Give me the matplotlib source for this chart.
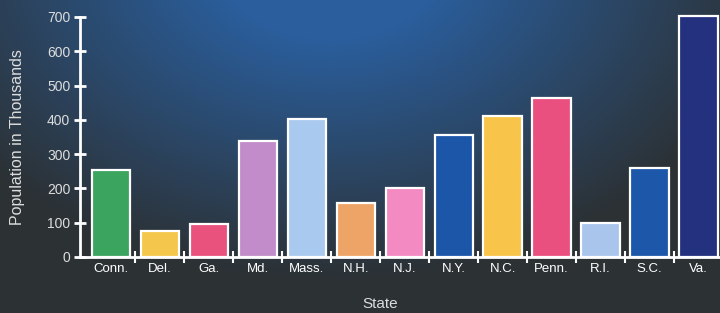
import numpy as np
import matplotlib
matplotlib.use('Agg')
import matplotlib.pyplot as plt

# population by state (thousands)
states = ['Conn.', 'Del.', 'Ga.', 'Md.', 'Mass.', 'N.H.', 'N.J.',
          'N.Y.', 'N.C.', 'Penn.', 'R.I.', 'S.C.', 'Va.']
population = [254, 76, 96, 338, 402, 157, 201, 356, 411, 464, 99, 259, 703]
bar_colors = ['#3ba45e', '#f4c64c', '#e9527c', '#c18cc9', '#a9c9ef',
              '#eea467', '#f38bc2', '#1b56a9', '#f8c44a', '#ea507f',
              '#a9c5ec', '#1d57a9', '#24317f']
y_ticks = [0, 100, 200, 300, 400, 500, 600, 700]

plt.rcParams['font.family'] = ['Liberation Sans', 'DejaVu Sans']

fig = plt.figure(figsize=(7.2, 3.13), dpi=100)

# background gradient: blue glow at the top centre fading into charcoal
bg = fig.add_axes([0, 0, 1, 1])
h, w = 313, 720
yy, xx = np.mgrid[0:h, 0:w]
d = np.sqrt(((xx - 330) / 450.0) ** 2 + ((yy + 40) / 320.0) ** 2)
t = np.clip((d - 0.25) / 0.75, 0, 1)[..., None]
blue = np.array([0x2a, 0x5e, 0x9c]) / 255
gray = np.array([0x2c, 0x31, 0x34]) / 255
img = blue * (1 - t) + gray * t
bg.imshow(img, aspect='auto', extent=[0, 1, 0, 1], origin='upper')
bg.axis('off')

ax = fig.add_axes([80 / 720, 1 - 257 / 313, 1 - 80 / 720, (257 - 17) / 313])
ax.patch.set_alpha(0)
x = np.arange(len(states))
ax.bar(x, population, width=0.78, color=bar_colors, edgecolor='white',
       linewidth=1.6, clip_on=False, zorder=3)

ax.set_xlim(-0.63, 12.44)
ax.set_ylim(0, 700)
for side in ['top', 'right']:
    ax.spines[side].set_visible(False)
for side in ['left', 'bottom']:
    ax.spines[side].set_color('white')
    ax.spines[side].set_linewidth(2)

ax.set_yticks(y_ticks)
ax.tick_params(axis='y', colors='white', direction='inout', length=8, width=2,
               labelsize=10, labelcolor='#dddddd', pad=3)
ax.set_xticks(x)
ax.set_xticklabels(states)
ax.tick_params(axis='x', length=0, labelsize=9.5, labelcolor='white', pad=4)
ax.set_xticks(np.arange(0.5, 12, 1), minor=True)
ax.tick_params(axis='x', which='minor', colors='white', direction='inout',
               length=8, width=1.5)

fig.text(18 / 720, 1 - 137 / 313, 'Population in Thousands', rotation=90,
         ha='center', va='center', color='#dddddd', fontsize=11.5)
fig.text(380 / 720, 1 - 304 / 313, 'State', ha='center', va='center',
         color='#dddddd', fontsize=11)

plt.savefig('out.png', dpi=100)
plt.close()
